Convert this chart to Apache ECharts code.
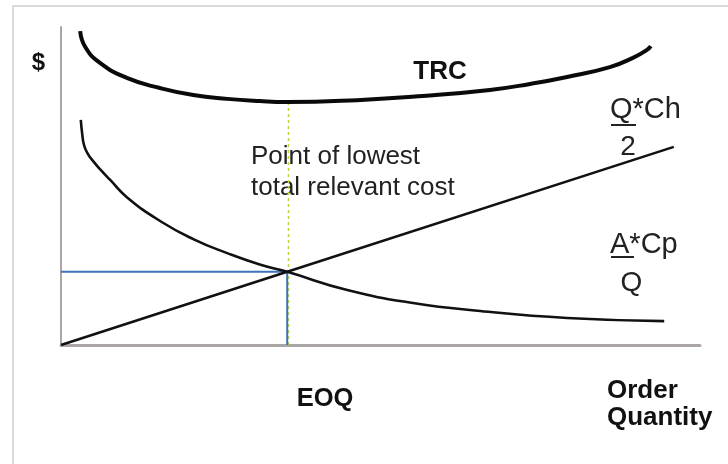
<!DOCTYPE html>
<html>
<head>
<meta charset="utf-8">
<script src="https://cdn.jsdelivr.net/npm/echarts@6/dist/echarts.min.js"></script>
<style>
html,body{margin:0;padding:0;background:#fff;}
#chart{width:728px;height:464px;}
</style>
</head>
<body>
<div id="chart"></div>
<script>
// Total relevant cost curve (TRC)
const trcQ    = [3.0, 3.8, 6.1, 10.3, 15.5, 20.7, 26.0, 31.1, 35.4, 46.3, 56.6, 67.1, 73.4, 79.2, 85.9, 89.5, 91.7, 92.3];
const trcCost = [98.7, 93.7, 88.7, 84.0, 80.8, 78.6, 77.4, 76.7, 76.4, 77.0, 78.3, 80.2, 82.1, 84.3, 87.4, 90.3, 92.8, 94.0];
// Ordering cost curve (A*Cp / Q)
const orderQ    = [3.1, 3.3, 3.6, 4.2, 5.0, 6.1, 7.7, 10.3, 15.5, 20.7, 26.0, 31.1, 35.4, 44.8, 55.1, 65.6, 79.2, 94.4];
const orderCost = [70.8, 66.7, 62.9, 60.1, 57.9, 55.3, 51.9, 46.5, 39.0, 33.3, 28.9, 25.3, 23.0, 17.3, 13.2, 10.7, 8.5, 7.5];
// Holding cost line (Q*Ch / 2)
const holdQ    = [0, 35.4, 95.9];
const holdCost = [0, 23.0, 62.3];
// EOQ point
const eoqQ = 35.4;
const eoqCost = 23.0;
const trcMin = 76.4;

function pairs(xs, ys){ return xs.map((x,i)=>[x, ys[i]]); }

const chart = echarts.init(document.getElementById('chart'));
const FONT = '"Liberation Sans", Arial, Helvetica, sans-serif';
const axisCol = '#aaa6a6';

const option = {
  animation: false,
  backgroundColor: '#fff',
  grid: {left: 61, right: 28, top: 27, bottom: 119},
  xAxis: {
    type: 'value', min: 0, max: 100,
    axisLine: {show: true, onZero: false, lineStyle: {color: axisCol, width: 3}},
    axisTick: {show: false}, axisLabel: {show: false}, splitLine: {show: false}
  },
  yAxis: {
    type: 'value', min: 0, max: 100,
    axisLine: {show: true, onZero: false, lineStyle: {color: axisCol, width: 2}},
    axisTick: {show: false}, axisLabel: {show: false}, splitLine: {show: false}
  },
  series: [
    {
      type: 'line', name: 'guide-green', symbol: 'none', silent: true,
      data: [[eoqQ + 0.2, trcMin], [eoqQ + 0.2, 0]],
      lineStyle: {color: '#b9d63a', width: 1.5, type: [3, 3]}
    },
    {
      type: 'line', name: 'guide-blue', symbol: 'none', silent: true,
      data: [[0, eoqCost], [eoqQ, eoqCost], [eoqQ, 0]],
      lineStyle: {color: '#3d76b8', width: 2}
    },
    {
      type: 'line', name: 'Holding', symbol: 'none',
      data: pairs(holdQ, holdCost),
      lineStyle: {color: '#111', width: 2.6}
    },
    {
      type: 'line', name: 'Ordering', symbol: 'none', smooth: 0.5,
      data: pairs(orderQ, orderCost),
      lineStyle: {color: '#111', width: 2.6}
    },
    {
      type: 'line', name: 'TRC', symbol: 'none', smooth: 0.5,
      data: pairs(trcQ, trcCost),
      lineStyle: {color: '#0a0a0a', width: 4}
    }
  ],
  graphic: [
    {type: 'rect', shape: {x: 13, y: 6, width: 800, height: 600}, style: {fill: 'none', stroke: '#dadada', lineWidth: 2}, silent: true, z: -10},
    {type: 'text', style: {x: 38.5, y: 63, text: '$', font: 'bold 24px ' + FONT, fill: '#111', textAlign: 'center', textVerticalAlign: 'middle'}},
    {type: 'text', style: {x: 440, y: 72, text: 'TRC', font: 'bold 26px ' + FONT, fill: '#111', textAlign: 'center', textVerticalAlign: 'middle'}},
    {type: 'text', style: {x: 251, y: 157, text: 'Point of lowest', font: '26px ' + FONT, fill: '#222', textAlign: 'left', textVerticalAlign: 'middle'}},
    {type: 'text', style: {x: 251, y: 188, text: 'total relevant cost', font: '26px ' + FONT, fill: '#222', textAlign: 'left', textVerticalAlign: 'middle'}},
    {type: 'text', style: {x: 610, y: 110, text: 'Q*Ch', font: '29px ' + FONT, fill: '#222', textAlign: 'left', textVerticalAlign: 'middle'}},
    {type: 'line', shape: {x1: 611, y1: 125, x2: 636, y2: 125}, style: {stroke: '#222', lineWidth: 2}},
    {type: 'text', style: {x: 628, y: 147, text: '2', font: '28px ' + FONT, fill: '#222', textAlign: 'center', textVerticalAlign: 'middle'}},
    {type: 'text', style: {x: 610, y: 245, text: 'A*Cp', font: '29px ' + FONT, fill: '#222', textAlign: 'left', textVerticalAlign: 'middle'}},
    {type: 'line', shape: {x1: 611, y1: 257, x2: 634, y2: 257}, style: {stroke: '#222', lineWidth: 2}},
    {type: 'text', style: {x: 631.5, y: 283, text: 'Q', font: '28px ' + FONT, fill: '#222', textAlign: 'center', textVerticalAlign: 'middle'}},
    {type: 'text', style: {x: 325, y: 399, text: 'EOQ', font: 'bold 25.5px ' + FONT, fill: '#111', textAlign: 'center', textVerticalAlign: 'middle'}},
    {type: 'text', style: {x: 607, y: 391, text: 'Order', font: 'bold 26px ' + FONT, fill: '#111', textAlign: 'left', textVerticalAlign: 'middle'}},
    {type: 'text', style: {x: 607, y: 418, text: 'Quantity', font: 'bold 26px ' + FONT, fill: '#111', textAlign: 'left', textVerticalAlign: 'middle'}}
  ]
};
chart.setOption(option);
</script>
</body>
</html>
